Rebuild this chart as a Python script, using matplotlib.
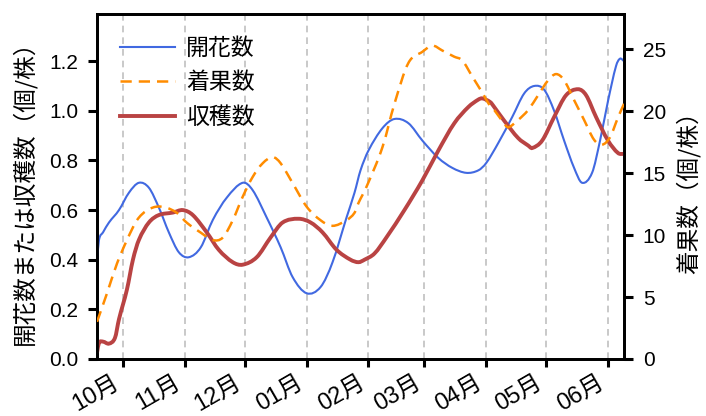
import matplotlib
matplotlib.use("Agg")
import matplotlib.pyplot as plt
import matplotlib.dates as mdates
from matplotlib.path import Path
from matplotlib.patches import PathPatch
from matplotlib.lines import Line2D
import numpy as np
import pandas as pd

plt.rcParams['font.family'] = ['Liberation Sans', 'Noto Sans CJK JP', 'DejaVu Sans']

# 開花数 (個/株) — left axis
flower_dates = ["2022-09-18", "2022-09-19", "2022-09-21", "2022-09-24", "2022-09-29",
                "2022-10-04", "2022-10-09", "2022-10-14", "2022-10-19", "2022-10-24",
                "2022-10-29", "2022-11-03", "2022-11-09", "2022-11-15", "2022-11-22",
                "2022-11-30", "2022-12-05", "2022-12-12", "2022-12-19", "2022-12-25",
                "2023-01-01", "2023-01-08", "2023-01-14", "2023-01-21", "2023-01-25",
                "2023-01-28", "2023-02-01", "2023-02-08", "2023-02-14", "2023-02-21",
                "2023-02-28", "2023-03-08", "2023-03-15", "2023-03-22", "2023-03-28",
                "2023-04-01", "2023-04-07", "2023-04-14", "2023-04-20", "2023-04-25",
                "2023-04-30", "2023-05-05", "2023-05-10", "2023-05-15", "2023-05-19",
                "2023-05-24", "2023-05-28", "2023-06-01", "2023-06-05", "2023-06-07",
                "2023-06-09"]
flower_vals = [0.39, 0.48, 0.51, 0.55, 0.60,
               0.67, 0.71, 0.69, 0.61, 0.51,
               0.43, 0.41, 0.45, 0.56, 0.65,
               0.71, 0.68, 0.57, 0.45, 0.33,
               0.265, 0.29, 0.39, 0.57, 0.67,
               0.76, 0.84, 0.93, 0.967, 0.95,
               0.88, 0.81, 0.77, 0.75, 0.76,
               0.79, 0.87, 0.975, 1.07, 1.10,
               1.085, 1.00, 0.88, 0.77, 0.71,
               0.75, 0.88, 1.04, 1.18, 1.21,
               1.20]

# 着果数 (個/株) — right axis
fruit_dates = ["2022-09-18", "2022-09-23", "2022-09-28", "2022-10-03", "2022-10-08",
               "2022-10-13", "2022-10-18", "2022-10-23", "2022-10-28", "2022-11-02",
               "2022-11-09", "2022-11-15", "2022-11-20", "2022-11-25", "2022-11-30",
               "2022-12-05", "2022-12-10", "2022-12-15", "2022-12-19", "2022-12-25",
               "2023-01-01", "2023-01-08", "2023-01-14", "2023-01-21", "2023-01-25",
               "2023-01-27", "2023-01-31", "2023-02-08", "2023-02-14", "2023-02-21",
               "2023-02-28", "2023-03-05", "2023-03-10", "2023-03-16", "2023-03-20",
               "2023-03-25", "2023-03-30", "2023-04-03", "2023-04-05", "2023-04-10",
               "2023-04-12", "2023-04-17", "2023-04-22", "2023-04-27", "2023-05-02",
               "2023-05-06", "2023-05-10", "2023-05-15", "2023-05-20", "2023-05-25",
               "2023-05-29", "2023-06-02", "2023-06-06", "2023-06-09"]
fruit_vals = [3.0, 5.3, 7.7, 9.6, 11.2,
              12.0, 12.3, 12.2, 11.8, 11.0,
              10.2, 9.6, 9.8, 11.2, 13.1,
              14.7, 15.8, 16.3, 15.8, 14.2,
              12.3, 11.2, 10.75, 11.2, 11.8,
              12.6, 13.9, 17.1, 20.6, 23.9,
              24.8, 25.3, 24.9, 24.4, 24.1,
              22.8, 21.5, 20.4, 20.1, 19.0,
              18.7, 19.3, 20.1, 21.3, 22.5,
              23.0, 22.5, 20.9, 19.3, 17.7,
              17.3, 17.9, 19.5, 20.6]

# 収穫数 (個/株) — left axis
harvest_dates = ["2022-09-18", "2022-09-19", "2022-09-21", "2022-09-24", "2022-09-27",
                 "2022-09-29", "2022-10-03", "2022-10-06", "2022-10-09", "2022-10-14",
                 "2022-10-19", "2022-10-26", "2022-10-31", "2022-11-05", "2022-11-12",
                 "2022-11-18", "2022-11-25", "2022-11-30", "2022-12-07", "2022-12-14",
                 "2022-12-20", "2022-12-28", "2023-01-03", "2023-01-09", "2023-01-16",
                 "2023-01-23", "2023-01-27", "2023-01-30", "2023-02-04", "2023-02-10",
                 "2023-02-19", "2023-02-28", "2023-03-08", "2023-03-16", "2023-03-23",
                 "2023-03-28", "2023-03-30", "2023-04-03", "2023-04-05", "2023-04-10",
                 "2023-04-17", "2023-04-22", "2023-04-24", "2023-04-29", "2023-05-05",
                 "2023-05-11", "2023-05-17", "2023-05-21", "2023-05-26", "2023-06-01",
                 "2023-06-06", "2023-06-09"]
harvest_vals = [0.025, 0.065, 0.07, 0.062, 0.085,
                0.16, 0.28, 0.40, 0.48, 0.55,
                0.58, 0.59, 0.60, 0.58, 0.51,
                0.44, 0.39, 0.38, 0.41, 0.49,
                0.55, 0.565, 0.55, 0.51, 0.44,
                0.40, 0.39, 0.40, 0.425, 0.49,
                0.60, 0.72, 0.84, 0.95, 1.015,
                1.045, 1.05, 1.035, 1.015, 0.96,
                0.89, 0.86, 0.85, 0.88, 0.975,
                1.063, 1.087, 1.063, 0.975, 0.88,
                0.83, 0.826]

left_ticks = [0.0, 0.2, 0.4, 0.6, 0.8, 1.0, 1.2]
right_ticks = [0, 5, 10, 15, 20, 25]

BLUE = '#4169E1'
ORANGE = '#FF8C00'
RED = '#B94343'
CJK = ['Noto Sans CJK JP', 'DejaVu Sans']


def smooth_path(dates, values):
    """Cubic Hermite curve through the data points, as Bezier path segments."""
    x = mdates.date2num(pd.to_datetime(dates))
    y = np.asarray(values, dtype=float)
    n = len(x)
    d = np.empty(n)
    d[0] = (y[1] - y[0]) / (x[1] - x[0])
    d[-1] = (y[-1] - y[-2]) / (x[-1] - x[-2])
    d[1:-1] = (y[2:] - y[:-2]) / (x[2:] - x[:-2])
    verts = [(x[0], y[0])]
    codes = [Path.MOVETO]
    for i in range(n - 1):
        h = x[i + 1] - x[i]
        verts += [(x[i] + h / 3, y[i] + d[i] * h / 3),
                  (x[i + 1] - h / 3, y[i + 1] - d[i + 1] * h / 3),
                  (x[i + 1], y[i + 1])]
        codes += [Path.CURVE4] * 3
    return Path(verts, codes)


fig = plt.figure(figsize=(7.06, 4.16), dpi=100)
ax = fig.add_axes([97 / 706, 1 - 359 / 416, (624 - 97) / 706, (359 - 14) / 416])
ax2 = ax.twinx()

blue_style = dict(color=BLUE, lw=1.5)
red_style = dict(color=RED, lw=2.8)
orange_style = dict(color=ORANGE, lw=1.8, ls=(0, (4.5, 2.8)))

ax.add_patch(PathPatch(smooth_path(flower_dates, flower_vals), fill=False,
                       edgecolor=BLUE, lw=blue_style['lw'], zorder=3))
ax.add_patch(PathPatch(smooth_path(harvest_dates, harvest_vals), fill=False,
                       edgecolor=RED, lw=red_style['lw'], zorder=3))
ax2.add_patch(PathPatch(smooth_path(fruit_dates, fruit_vals), fill=False,
                        edgecolor=ORANGE, lw=orange_style['lw'],
                        ls=orange_style['ls'], zorder=3))

start = pd.Timestamp(flower_dates[0])
end = pd.Timestamp(flower_dates[-1])
ax.set_xlim(start, end)
ax.set_ylim(0, 1.39)
ax2.set_ylim(0, 27.85)
ax.set_yticks(left_ticks)
ax.yaxis.set_major_formatter(matplotlib.ticker.FormatStrFormatter('%.1f'))
ax2.set_yticks(right_ticks)

ax.xaxis.set_major_locator(mdates.MonthLocator())
ax.xaxis.set_major_formatter(mdates.DateFormatter('%m月'))
ax.grid(axis='x', color='#c0c0c0', ls=(0, (4, 3)), lw=1.2)
ax.set_axisbelow(True)

ax.tick_params(axis='y', labelsize=15, width=2.2, length=6.5, pad=7,
               direction='out')
ax2.tick_params(axis='y', labelsize=15, width=2.2, length=6.5, pad=7,
                direction='out')
for a in (ax, ax2):
    for s in a.spines.values():
        s.set_linewidth(2)
ax.tick_params(axis='x', labelsize=17, width=2.2, length=6, pad=3)
for lab in ax.get_xticklabels():
    lab.set_rotation(30)
    lab.set_ha('right')

ax.set_ylabel('開花数または収穫数（個/株）', fontsize=17, labelpad=9, family=CJK)
ax2.set_ylabel('着果数（個/株）', fontsize=17, labelpad=7, family=CJK)

handles = [Line2D([], [], **blue_style), Line2D([], [], **orange_style),
           Line2D([], [], **red_style)]
ax.legend(handles, ['開花数', '着果数', '収穫数'], loc='upper left',
          frameon=False, fontsize=16.5, handlelength=2.4, handletextpad=0.5,
          labelspacing=0.5, borderaxespad=0.6)

fig.savefig('out.png', dpi=100)
